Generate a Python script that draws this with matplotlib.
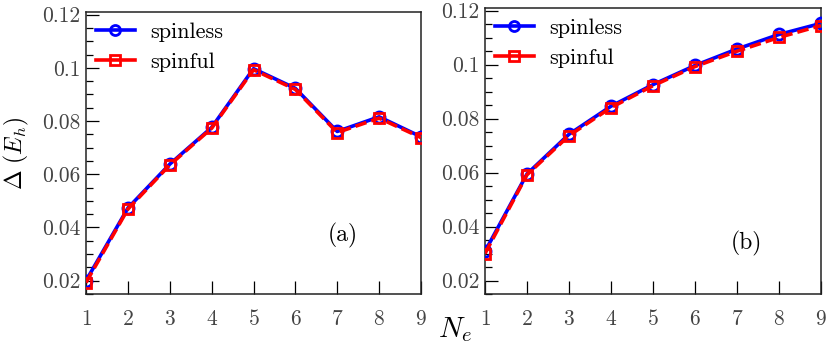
import matplotlib
matplotlib.use("Agg")
import matplotlib.pyplot as plt
from matplotlib.ticker import MultipleLocator, FuncFormatter

plt.rcParams['font.family'] = ['cmr10', 'DejaVu Serif']
plt.rcParams['mathtext.fontset'] = 'cm'
plt.rcParams['axes.formatter.use_mathtext'] = True

ne = [1, 2, 3, 4, 5, 6, 7, 8, 9]
a_spinless = [0.0200, 0.0473, 0.0638, 0.0776, 0.0997, 0.0923, 0.0761, 0.0816, 0.0741]
a_spinful = [0.0193, 0.0469, 0.0635, 0.0773, 0.0993, 0.0919, 0.0757, 0.0811, 0.0738]
b_spinless = [0.0308, 0.0595, 0.0742, 0.0846, 0.0926, 0.0997, 0.1058, 0.1112, 0.1153]
b_spinful = [0.0300, 0.0592, 0.0737, 0.0841, 0.0922, 0.0993, 0.1050, 0.1101, 0.1145]
panel_labels = ['(a)', '(b)']

fig = plt.figure(figsize=(8.3, 3.47), dpi=100)
ax1 = fig.add_axes([86/830, 53/347, 335/830, 282/347])
ax2 = fig.add_axes([485/830, 53/347, 336/830, 286/347])

def fmt(v, pos):
    s = f"{v:.2f}".rstrip('0')
    if s.endswith('.'):
        s = s[:-1]
    return s

for ax, s1, s2, lab, lpos in [(ax1, a_spinless, a_spinful, panel_labels[0], ((343-86)/335, (294-235)/282)),
                              (ax2, b_spinless, b_spinful, panel_labels[1], ((746-485)/336, (294-243)/286))]:
    ax.plot(ne, s1, color='#0000ff', lw=2.6, marker='o', ms=8, mfc='none',
            mec='#0000ff', mew=2.0, label='spinless', zorder=3)
    ax.plot(ne, s2, color='#ff0000', lw=2.6, ls=(0, (3.2, 1.4)), marker='s', ms=7.5,
            mfc='none', mec='#ff0000', mew=2.0, label='spinful', zorder=4)
    ax.set_xlim(1, 9)
    ax.set_ylim(0.015, 0.121)
    ax.xaxis.set_major_locator(MultipleLocator(1))
    ax.yaxis.set_major_locator(MultipleLocator(0.02))
    ax.yaxis.set_minor_locator(MultipleLocator(0.005))
    ax.yaxis.set_major_formatter(FuncFormatter(fmt))
    ax.tick_params(axis='x', which='major', direction='in', length=9.5, width=0.9,
                   labelsize=15.5, labelcolor='#444444', pad=11)
    ax.tick_params(axis='y', which='major', direction='in', length=9, width=0.9,
                   labelsize=15.5, labelcolor='#444444', pad=4)
    ax.tick_params(axis='y', which='minor', direction='in', length=5, width=0.9)
    for sp in ax.spines.values():
        sp.set_linewidth(1.1)
        sp.set_color('#222222')
    leg = ax.legend(loc='upper left', frameon=False, fontsize=16, handlelength=1.75,
                    borderaxespad=0.1, handletextpad=0.7, labelspacing=0.5,
                    borderpad=0.35, markerscale=0.9)
    for h in leg.get_lines():
        h.set_linestyle('-')
    ax.text(lpos[0], lpos[1], lab, transform=ax.transAxes, fontsize=17,
            ha='center', va='center')

ax1.set_ylabel(r'$\Delta\ (E_h)$', fontsize=17, labelpad=8)
fig.text(455/830, 1 - 330/347, r'$N_e$', fontsize=21, ha='center', va='center')

fig.savefig('out.png', dpi=100)
